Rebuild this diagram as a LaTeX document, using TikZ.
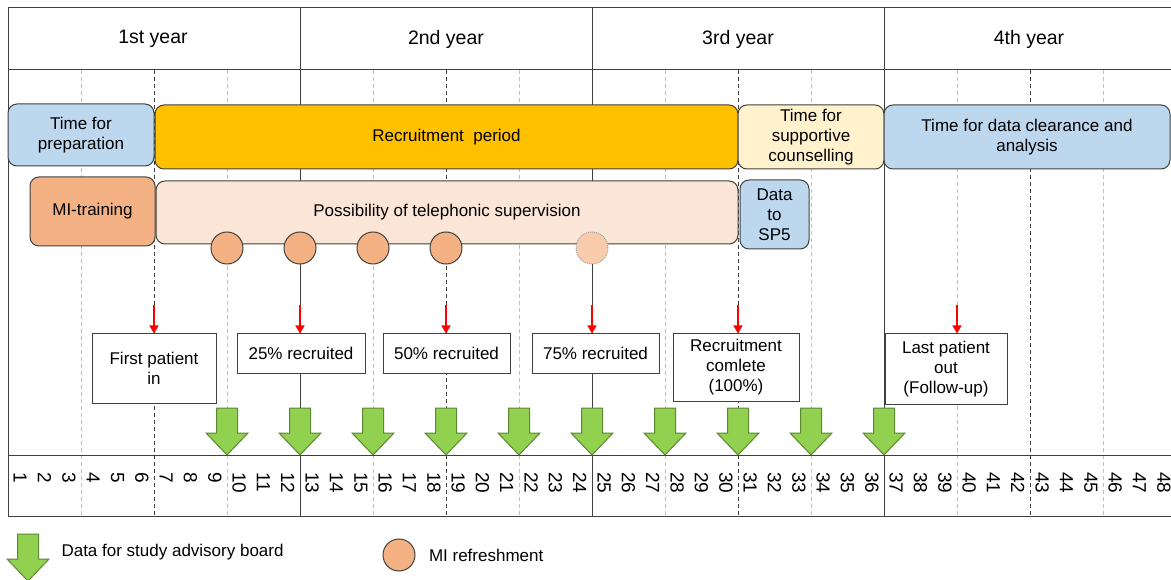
\documentclass[tikz,border=0pt]{standalone}
\usepackage{fontspec}
\setmainfont{Liberation Sans}
\usetikzlibrary{arrows.meta, positioning, calc}
\definecolor{cLine}{RGB}{64,64,64}
\definecolor{cGrid}{RGB}{191,191,191}
\definecolor{cBlue}{RGB}{189,215,238}
\definecolor{cGold}{RGB}{255,192,0}
\definecolor{cCream}{RGB}{255,242,204}
\definecolor{cOrange}{RGB}{244,177,131}
\definecolor{cPeach}{RGB}{251,229,214}
\definecolor{cPale}{RGB}{248,203,173}
\definecolor{cGreen}{RGB}{146,208,80}
\definecolor{cGreenDk}{RGB}{94,135,52}
\tikzset{
	phase/.style    ={rectangle, rounded corners=9pt, draw=cLine, line width=1pt, align=center, inner sep=0pt},
	milestone/.style={rectangle, draw=cLine, line width=1pt, fill=white, align=center, inner sep=0pt},
	refresh/.style  ={circle, draw=cLine, line width=1pt, fill=cOrange, minimum size=32pt, inner sep=0pt},
	yearlbl/.style  ={font=\fontsize{19.5}{23}\selectfont},
	monthlbl/.style ={rotate=-90, anchor=west, inner sep=0pt, font=\fontsize{19}{23}\selectfont},
	% grid of the time axis
	yearline/.style ={cLine, line width=1pt},
	halfline/.style ={cLine, line width=1pt, dash pattern=on 4pt off 3pt},
	qline/.style    ={cGrid, line width=1pt, dash pattern=on 4pt off 3pt},
	redarrow/.style ={-{Triangle[length=8pt, width=9pt]}, red, line width=1.5pt},
	sabarrow/.pic   ={\draw[fill=cGreen, draw=cGreenDk, line width=1pt] (-10.5,0) -- (10.5,0) -- (10.5,25) -- (21,25) -- (0,47) -- (-21,25) -- (-10.5,25) -- cycle;},
}

\begin{document}
\begin{tikzpicture}[x=1pt, y=-1pt, every node/.style={font=\fontsize{17}{20}\selectfont}]
	\useasboundingbox (0,0) rectangle (1171,580);
	% grid
	\foreach \m in {3,9,...,45} \draw[qline] ({8+\m*292/12},70) -- ({8+\m*292/12},516);
	\foreach \m in {6,18,30,42} \draw[halfline] ({8+\m*292/12},70) -- ({8+\m*292/12},516);
	\foreach \m in {12,24,36} \draw[yearline] ({8+\m*292/12},8) -- ({8+\m*292/12},516);
	\draw[yearline] (1171,8) -- (8,8) -- (8,516) -- (1171,516);
	\draw[yearline] (8,70) -- (1171,70); \draw[yearline] (8,455) -- (1171,455);
	\node[yearlbl] (y1) at (153,39) {1st year};
	\node[yearlbl] (y2) at (446,39) {2nd year};
	\node[yearlbl] (y3) at (738,39) {3rd year};
	\node[yearlbl] (y4) at (1029,39) {4th year};
	\foreach \m in {1,...,48} \node[monthlbl] (m\m) at ({8+(\m-0.5)*292/12},472) {\m};

	% phases
	\node[phase, fill=cBlue, minimum width=146pt, minimum height=62pt] (prep) at (81,135) {Time for\\preparation};
	\node[phase, fill=cGold, minimum width=583pt, minimum height=64pt] (recr) at (446.5,137) {Recruitment\ \ period};
	\node[phase, fill=cCream, minimum width=146pt, minimum height=64pt] (couns) at (811,137) {Time for\\supportive\\counselling};
	\node[phase, fill=cBlue, minimum width=286pt, minimum height=64pt] (anal) at (1027,137) {Time for data clearance and\\analysis};
	\node[phase, fill=cOrange, minimum width=125pt, minimum height=69pt] (mitr) at (92.5,211.5) {MI-training};
	\node[phase, fill=cPeach, minimum width=582pt, minimum height=63pt] (tele) at (447,212.5) {Possibility of telephonic supervision};
	\node[phase, fill=cBlue, minimum width=69pt, minimum height=69pt] (sp5) at (774.5,214.5) {Data\\to\\SP5};
	\node[refresh] (c1) at (227,248) {};
	\node[refresh] (c2) at (300,248) {};
	\node[refresh] (c3) at (373,248) {};
	\node[refresh] (c4) at (446,248) {};
	\node[refresh, fill=cPale, draw=cLine!50, dash pattern=on 1pt off 1pt] (c5) at (592,248) {};

	% milestones
	\node[milestone, minimum width=124pt, minimum height=69pt] (fp) at (154,368.5) {First patient\\in};
	\node[milestone, minimum width=128pt, minimum height=39.5pt] (p25) at (301,353.75) {25\% recruited};
	\node[milestone, minimum width=127pt, minimum height=39.5pt] (p50) at (446.5,353.75) {50\% recruited};
	\node[milestone, minimum width=127pt, minimum height=39.5pt] (p75) at (595.5,353.75) {75\% recruited};
	\node[milestone, minimum width=126pt, minimum height=67pt] (p100) at (736,367.5) {Recruitment\\comlete\\(100\%)};
	\node[milestone, minimum width=122pt, minimum height=70pt] (lp) at (946,369) {Last patient\\out\\(Follow-up)};
	\foreach \xx/\tgt [count=\i] in {154/fp, 300/p25, 446/p50, 592/p75, 738/p100, 957/lp} {
		\coordinate (r\i) at (\xx,305);
		\draw[redarrow] (r\i) -- (r\i |- \tgt.north);
	}
	\foreach \m in {9,12,...,36} \pic at ({8+\m*292/12},408) {sabarrow};

	% legend
	\pic at (28,534) {sabarrow};
	\node[anchor=west] (lsab) at (58,552) {Data for study advisory board};
	\node[refresh] (lmi) at (399,555) {};
	\node[anchor=west, right=10pt of lmi] (lmit) {MI refreshment};
\end{tikzpicture}
\end{document}
